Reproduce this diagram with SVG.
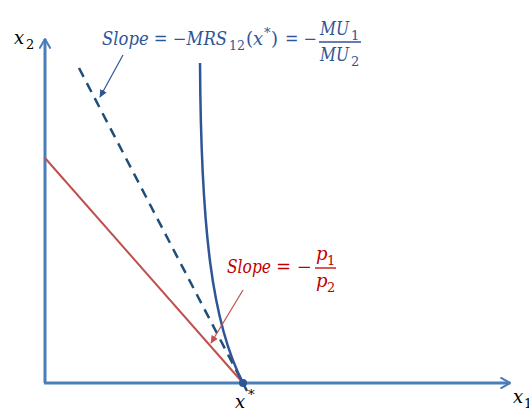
<svg xmlns="http://www.w3.org/2000/svg" width="529" height="410" viewBox="0 0 529 410">
<defs>
<marker id="axhead" viewBox="0 0 10 10" refX="8" refY="5" markerWidth="4.2" markerHeight="4.2" orient="auto" markerUnits="strokeWidth">
<path d="M1,1 L8,5 L1,9" fill="none" stroke="#4a7ebb" stroke-width="1.6" stroke-linecap="round" stroke-linejoin="round"/>
</marker>
<marker id="bluehead" viewBox="0 0 10 10" refX="9" refY="5" markerWidth="8" markerHeight="8" orient="auto" markerUnits="userSpaceOnUse">
<path d="M0,0.5 L10,5 L0,9.5 Z" fill="#2f5597"/>
</marker>
<marker id="redhead" viewBox="0 0 10 10" refX="9" refY="5" markerWidth="8" markerHeight="8" orient="auto" markerUnits="userSpaceOnUse">
<path d="M0,0.5 L10,5 L0,9.5 Z" fill="#c0504d"/>
</marker>
</defs>
<style>
.ax{stroke:#4a7ebb;stroke-width:3;fill:none}
.t{font-family:"DejaVu Serif","Liberation Serif",serif;font-style:italic;font-size:18px}
.u{font-family:"DejaVu Serif","Liberation Serif",serif;font-style:normal;font-size:18px}
.s{font-family:"DejaVu Serif","Liberation Serif",serif;font-style:normal;font-size:13px}
.blue{fill:#2f5597}
.red{fill:#c00000}
.lbl{fill:#000}
</style>
<rect width="529" height="410" fill="#fff"/>
<g id="axes">
<line class="ax" x1="45" y1="383" x2="45" y2="39" marker-end="url(#axhead)"/>
<line class="ax" x1="44" y1="383" x2="510" y2="383" marker-end="url(#axhead)"/>
</g>
<g id="connectors">
<line id="budget-line" x1="45" y1="158" x2="243" y2="383" stroke="#c0504d" stroke-width="2"/>
<line id="tangent" x1="79" y1="68" x2="247" y2="391" stroke="#1f4e79" stroke-width="2.5" stroke-dasharray="10,7"/>
<path id="indifference" d="M200,63 C201,230 212,323 243,383" fill="none" stroke="#2f5597" stroke-width="2.5"/>
<line x1="123" y1="55" x2="100" y2="97" stroke="#2f5597" stroke-width="1.2" marker-end="url(#bluehead)"/>
<line x1="243" y1="290" x2="211" y2="343" stroke="#c0504d" stroke-width="1.2" marker-end="url(#redhead)"/>
</g>
<g id="point">
<circle cx="243" cy="383" r="4" fill="#2f5597"/>
</g>
<g id="label-x2">
<text class="t lbl" x="14" y="44">x</text>
<text class="s lbl" x="26" y="49">2</text>
</g>
<g id="label-x1">
<text class="t lbl" x="513" y="403">x</text>
<text class="s lbl" x="524" y="408">1</text>
</g>
<g id="label-xstar">
<text class="t lbl" x="235" y="408">x</text>
<text class="s lbl" x="248" y="399">*</text>
</g>
<g id="label-mrs">
<text class="t blue" x="102" y="45" textLength="125" lengthAdjust="spacingAndGlyphs">Slope = −MRS</text>
<text class="s blue" x="229" y="50" textLength="16" lengthAdjust="spacingAndGlyphs">12</text>
<text class="u blue" x="246" y="45">(</text>
<text class="t blue" x="253" y="45">x</text>
<text class="s blue" x="264" y="37">*</text>
<text class="u blue" x="271" y="45">)</text>
<text class="u blue" x="285" y="45" textLength="32" lengthAdjust="spacingAndGlyphs">= −</text>
<text class="t blue" x="320" y="35" textLength="29" lengthAdjust="spacingAndGlyphs">MU</text>
<text class="s blue" x="351" y="40">1</text>
<line x1="319" y1="42" x2="361" y2="42" stroke="#2f5597" stroke-width="1.3"/>
<text class="t blue" x="320" y="61" textLength="29" lengthAdjust="spacingAndGlyphs">MU</text>
<text class="s blue" x="351" y="66">2</text>
</g>
<g id="label-price">
<text class="t red" x="227" y="273" textLength="44" lengthAdjust="spacingAndGlyphs">Slope</text>
<text class="u red" x="276" y="273" textLength="36" lengthAdjust="spacingAndGlyphs">= −</text>
<text class="t red" x="316" y="260">p</text>
<text class="s red" x="327" y="265">1</text>
<line x1="315" y1="268" x2="336" y2="268" stroke="#c00000" stroke-width="1.3"/>
<text class="t red" x="316" y="287">p</text>
<text class="s red" x="327" y="292">2</text>
</g>
</svg>
